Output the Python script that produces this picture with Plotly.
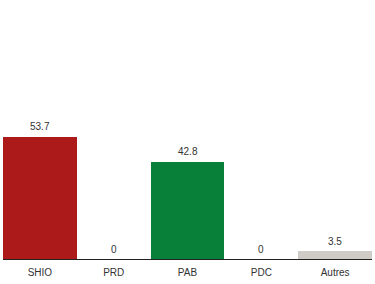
import plotly.graph_objects as go

categories = ["SHIO", "PRD", "PAB", "PDC", "Autres"]
values = [53.7, 0, 42.8, 0, 3.5]
labels = ["53.7", "0", "42.8", "0", "3.5"]
colors = ["#AD1A1A", "#AD1A1A", "#09803A", "#09803A", "#CFCBC7"]

FONT = "Liberation Sans, Arial, sans-serif"

fig = go.Figure(go.Bar(
    x=categories, y=values, marker_color=colors, marker_line_width=0,
    hoverinfo="skip",
))
for c, v, t in zip(categories, values, labels):
    fig.add_annotation(x=c, y=v, text=t, showarrow=False, yanchor="middle",
                       yshift=10, font=dict(size=10, color="#333333", family=FONT))
fig.update_layout(
    width=375, height=284, margin=dict(l=3, r=3, t=0, b=25),
    paper_bgcolor="white", plot_bgcolor="white", bargap=0, showlegend=False,
    font=dict(family=FONT, size=10, color="#333333"),
)
fig.update_xaxes(showline=True, linecolor="#222222", linewidth=1, showgrid=False,
                 ticks="", ticklabelstandoff=4, tickfont=dict(size=10, color="#333333"))
fig.update_yaxes(range=[0, 113.7], visible=False, showgrid=False, zeroline=False)
fig.write_html("out.html")
